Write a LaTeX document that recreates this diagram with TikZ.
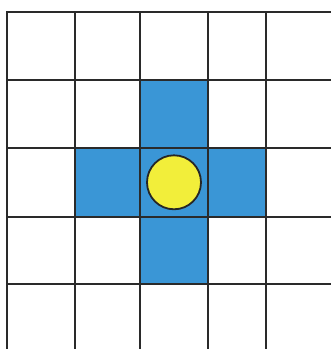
\documentclass[tikz,border=0pt]{standalone}
\usepackage{xcolor}
\usetikzlibrary{positioning}
\definecolor{cellblue}{HTML}{3A96D6}
\definecolor{ballyellow}{HTML}{F2EE3A}
\definecolor{gridgray}{HTML}{2A2A2A}
\begin{document}
\begin{tikzpicture}[x=1pt, y=-1pt]
  \useasboundingbox (0,0) rectangle (331,349);

  % Blue cross
  \fill[cellblue] (140,80.3) rectangle (207.7,284.3);
  \fill[cellblue] (75.3,148.3) rectangle (266,216.7);

  % Grid lines
  \foreach \x in {7.3, 75.3, 140, 207.7, 266} {
    \draw[gridgray, line width=2pt, line cap=rect] (\x,12.3) -- (\x,349);
  }
  \foreach \y in {12.3, 80.3, 148.3, 216.7, 284.3} {
    \draw[gridgray, line width=2pt, line cap=rect] (7.3,\y) -- (331,\y);
  }

  % Ball
  \draw[draw=black!85, fill=ballyellow, line width=1.8pt] (174,182.3) circle[radius=27];
\end{tikzpicture}
\end{document}
